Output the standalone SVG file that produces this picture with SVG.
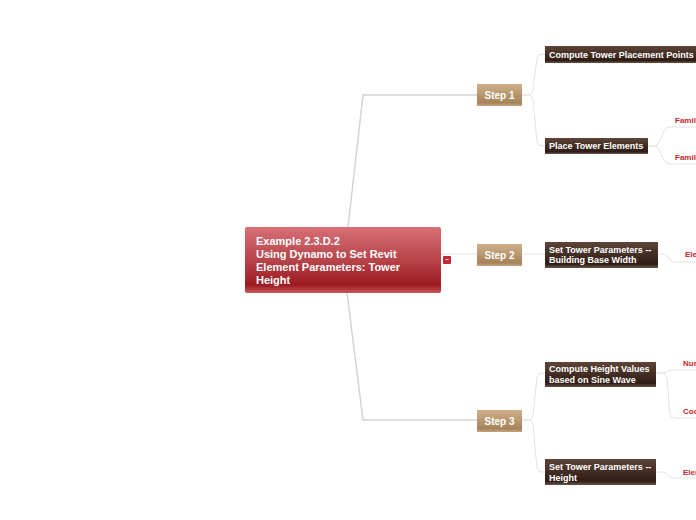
<svg xmlns="http://www.w3.org/2000/svg" width="696" height="520" viewBox="0 0 696 520">
<defs>
<linearGradient id="gRed" x1="0" y1="0" x2="0" y2="1">
<stop offset="0" stop-color="#d77076"/>
<stop offset="0.5" stop-color="#b8444a"/>
<stop offset="0.88" stop-color="#9b1a21"/>
<stop offset="1" stop-color="#c9565c"/>
</linearGradient>
<linearGradient id="gTan" x1="0" y1="0" x2="0" y2="1">
<stop offset="0" stop-color="#cfb089"/>
<stop offset="0.85" stop-color="#a6845b"/>
<stop offset="1" stop-color="#c4a57d"/>
</linearGradient>
<linearGradient id="gBrown" x1="0" y1="0" x2="0" y2="1">
<stop offset="0" stop-color="#5e4438"/>
<stop offset="0.85" stop-color="#2f1d15"/>
<stop offset="1" stop-color="#6a5449"/>
</linearGradient>
</defs>
<style>
.main{fill:#fff;font-family:"Liberation Sans",Arial,sans-serif;font-weight:bold;font-size:11px}
.step{fill:#fff;font-family:"Liberation Sans",Arial,sans-serif;font-weight:bold;font-size:10px}
.sub{fill:#fff;font-family:"Liberation Sans",Arial,sans-serif;font-weight:bold;font-size:9px}
.leaf{fill:#c4262e;font-family:"Liberation Sans",Arial,sans-serif;font-weight:bold;font-size:8px}
.c1{fill:none;stroke:#d4d4d4;stroke-width:1.5}
.c2{fill:none;stroke:#e2e2e2;stroke-width:1}
</style>
<rect width="696" height="520" fill="#fff"/>
<g id="connectors">
<path class="c1" d="M348,227 L363,95 L477,95"/>
<path class="c2" d="M441,254 L477,254"/>
<path class="c1" d="M347,293 L363,420 L477,420"/>
<path class="c2" d="M522,95 L529,95 Q532,95 533,90 L537,58 Q538,54 542,54 L545,54"/>
<path class="c2" d="M522,95 L529,95 Q532,95 533,100 L537,142 Q538,146 542,146 L545,146"/>
<path class="c2" d="M522,254 L545,254"/>
<path class="c2" d="M522,420 L529,420 Q532,420 533,415 L537,377 Q538,373 542,373 L545,373"/>
<path class="c2" d="M522,420 L529,420 Q532,420 533,425 L537,468 Q538,472 542,472 L545,472"/>
<path class="c2" d="M648,146 L655,146 Q658,146 660,141 L664,131 Q666,127 670,127 L696,127"/>
<path class="c2" d="M648,146 L655,146 Q658,146 660,151 L664,160 Q666,164 670,164 L696,164"/>
<path class="c2" d="M658,254 L664,254 Q666,254 668,257 L670,260 Q672,262 675,262 L696,262"/>
<path class="c2" d="M656,373 L663,373 Q666,373 668,371 Q670,370 673,370 L696,370"/>
<path class="c2" d="M656,373 L663,373 Q666,373 667,378 L670,414 Q671,418 675,418 L696,418"/>
<path class="c2" d="M656,472 L663,472 Q666,472 668,475 Q670,478 674,478 L696,478"/>
</g>
<g id="central">
<rect x="245" y="227" width="196" height="66" rx="2" fill="url(#gRed)"/>
<text class="main" x="256" y="245">Example 2.3.D.2</text>
<text class="main" x="256" y="258">Using Dynamo to Set Revit</text>
<text class="main" x="256" y="271">Element Parameters: Tower</text>
<text class="main" x="256" y="284">Height</text>
</g>
<g id="collapse">
<rect x="443" y="256" width="8" height="8" rx="1" fill="#c3262d"/>
<path d="M445.5,259.5 L448.5,259.5" stroke="#fff" stroke-width="1"/>
</g>
<g id="step1">
<rect x="477" y="84" width="45" height="22" fill="url(#gTan)"/>
<text class="step" x="499.5" y="98.5" text-anchor="middle">Step 1</text>
</g>
<g id="step2">
<rect x="477" y="244" width="45" height="22" fill="url(#gTan)"/>
<text class="step" x="499.5" y="258.5" text-anchor="middle">Step 2</text>
</g>
<g id="step3">
<rect x="477" y="410" width="45" height="22" fill="url(#gTan)"/>
<text class="step" x="499.5" y="424.5" text-anchor="middle">Step 3</text>
</g>
<g id="computePoints">
<rect x="545" y="46" width="152" height="17" fill="url(#gBrown)"/>
<text class="sub" x="549" y="57.5">Compute Tower Placement Points</text>
</g>
<g id="placeElements">
<rect x="545" y="138" width="103" height="16" fill="url(#gBrown)"/>
<text class="sub" x="549" y="149">Place Tower Elements</text>
</g>
<g id="setBaseWidth">
<rect x="545" y="242" width="113" height="26" fill="url(#gBrown)"/>
<text class="sub" x="549" y="252.5">Set Tower Parameters --</text>
<text class="sub" x="549" y="263">Building Base Width</text>
</g>
<g id="computeHeight">
<rect x="545" y="362" width="111" height="25" fill="url(#gBrown)"/>
<text class="sub" x="549" y="372">Compute Height Values</text>
<text class="sub" x="549" y="382.5">based on Sine Wave</text>
</g>
<g id="setHeight">
<rect x="545" y="459" width="111" height="26" fill="url(#gBrown)"/>
<text class="sub" x="549" y="470">Set Tower Parameters --</text>
<text class="sub" x="549" y="480.5">Height</text>
</g>
<g id="leaf1"><text class="leaf" x="675" y="123">Family</text></g>
<g id="leaf2"><text class="leaf" x="675" y="160">Family</text></g>
<g id="leaf3"><text class="leaf" x="685" y="257">Element</text></g>
<g id="leaf4"><text class="leaf" x="683" y="366">Number</text></g>
<g id="leaf5"><text class="leaf" x="683" y="414">Code</text></g>
<g id="leaf6"><text class="leaf" x="683" y="475">Element</text></g>
</svg>
